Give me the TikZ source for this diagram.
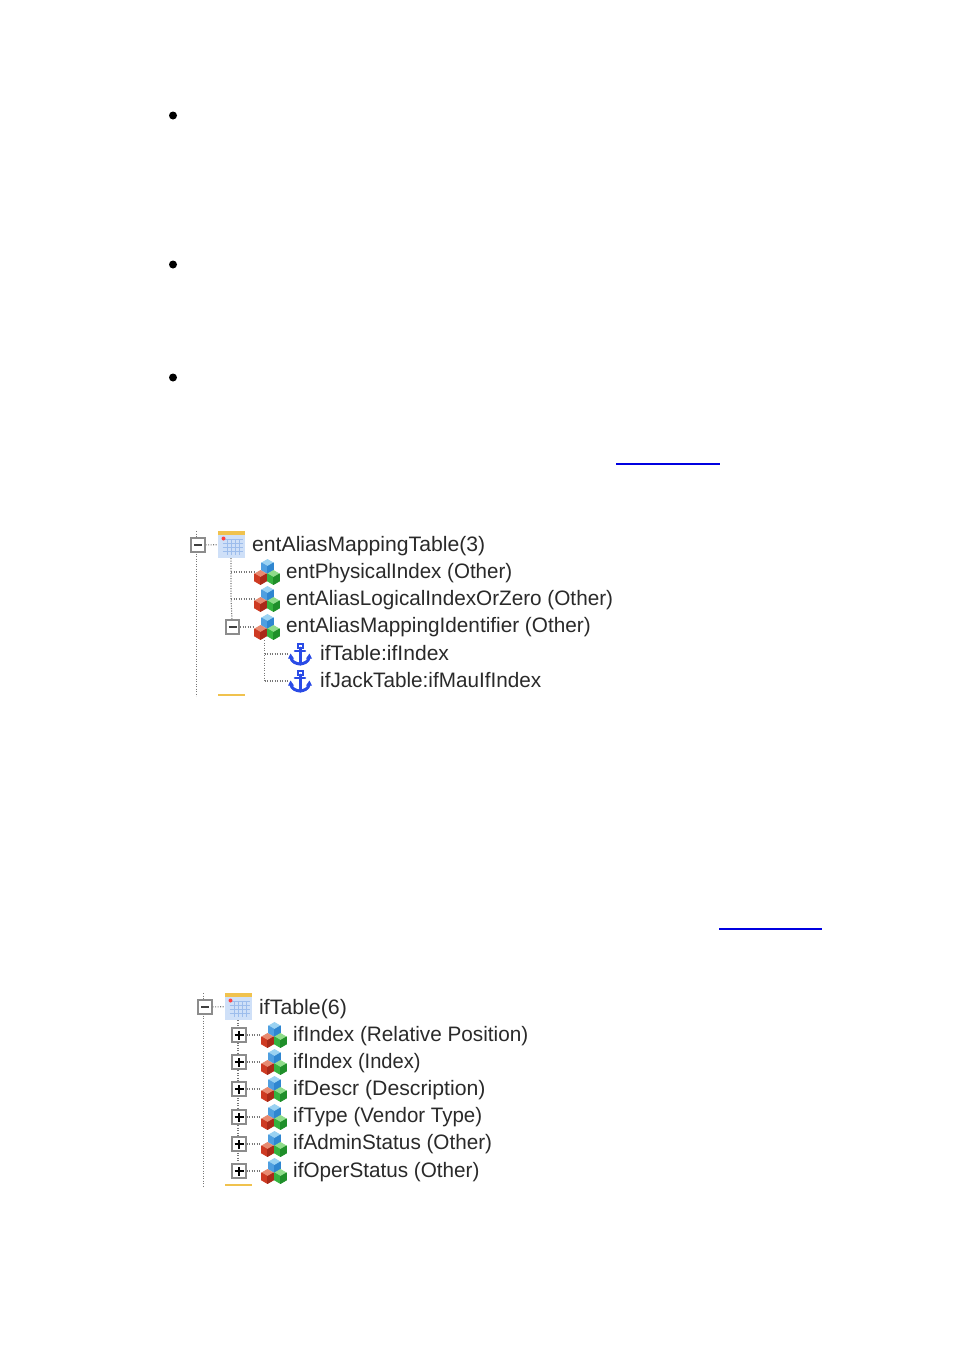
\documentclass[tikz,border=0pt]{standalone}
\usepackage{fontspec}
\setmainfont{Liberation Sans}
\definecolor{txt}{HTML}{2A2A2A}
\definecolor{boxc}{HTML}{8C8C8C}
\definecolor{dotc}{HTML}{777777}
\definecolor{gold}{HTML}{F0C24E}
\definecolor{tblue}{HTML}{CFE0F8}
\definecolor{tgrid}{HTML}{9DBDEC}
\definecolor{anch}{HTML}{2A4BE6}
\definecolor{linkc}{HTML}{0000E0}
\definecolor{blueA}{HTML}{9AD2F2}\definecolor{blueB}{HTML}{4F9FE0}\definecolor{blueC}{HTML}{2F86D0}
\definecolor{redA}{HTML}{E88A70}\definecolor{redB}{HTML}{CE3A22}\definecolor{redC}{HTML}{A92A18}
\definecolor{greenA}{HTML}{8FDC8A}\definecolor{greenB}{HTML}{35B23E}\definecolor{greenC}{HTML}{1F8F2A}
\tikzset{
  x=1pt,y=-1pt,
  lbl/.style={anchor=base west,inner sep=0pt,text=txt,font=\fontsize{20.9}{24}\selectfont},
  togglebox/.style={draw=boxc,line width=1.6pt,fill=white,minimum size=13.5pt,inner sep=0pt},
  iconcell/.style={minimum width=#1,minimum height=#1,inner sep=0pt},
  tree/.style={dotc,line width=1.1pt,dash pattern=on 1.1pt off 1.4pt},
  bulletdot/.style={circle,fill=black,minimum size=8pt,inner sep=0pt},
  linkbar/.style={linkc,line width=1.4pt},
  baseline rule/.style={gold,line width=1.5pt}
}
\newcommand{\isocube}[5]{%
  \begin{scope}[shift={(#1,#2)},line join=round,line width=.8pt]
    \filldraw[draw=#3,fill=#3] (0,-7) -- (6,-3.5) -- (0,0) -- (-6,-3.5) -- cycle;
    \filldraw[draw=#4,fill=#4] (-6,-3.5) -- (0,0) -- (0,7) -- (-6,3.5) -- cycle;
    \filldraw[draw=#5,fill=#5] (6,-3.5) -- (0,0) -- (0,7) -- (6,3.5) -- cycle;
  \end{scope}}
\newcommand{\cubeicon}[2]{%
  \node[iconcell=26pt] (#1) at (#2) {};
  \begin{scope}[shift={(#1.center)}]
    \isocube{0.5}{-5.5}{blueA}{blueB}{blueC}
    \isocube{-6.5}{5.5}{redA}{redB}{redC}
    \isocube{6.5}{5.5}{greenA}{greenB}{greenC}
  \end{scope}}
\newcommand{\anchoricon}[2]{%
  \node[iconcell=24pt] (#1) at (#2) {};
  \begin{scope}[shift={(#1.center)},anch,line cap=round]
    \draw[line width=2pt] (-2.5,-10.5) rectangle (2.5,-6.5);
    \draw[line width=3pt] (0,-6) -- (0,10);
    \draw[line width=2.6pt] (-5,-3) -- (5,-3);
    \draw[line width=3pt] (-9.5,3) .. controls (-8,8.5) and (-4,9.5) .. (0,10)
                            .. controls (4,9.5) and (8,8.5) .. (9.5,3);
    \fill (-12,4.5) -- (-6,4.5) -- (-9.5,-0.5) -- cycle;
    \fill (12,4.5) -- (6,4.5) -- (9.5,-0.5) -- cycle;
  \end{scope}}
\newcommand{\tableicon}[2]{%
  \node[iconcell=27pt] (#1) at (#2) {};
  \begin{scope}[shift={(#1.center)}]
    \fill[tblue] (-13.5,-13.5) rectangle (13.5,13.5);
    \foreach \gx in {-4,0,4,8} \draw[tgrid,line width=.9pt] (\gx,-5) -- (\gx,10);
    \foreach \gy in {-5,-1,3,7} \draw[tgrid,line width=.9pt] (-9,\gy) -- (11,\gy);
    \fill[gold] (-13.5,-13.5) rectangle (13.5,-9.5);
    \fill[red!75!white] (-8,-6) circle (2pt);
  \end{scope}}
\newcommand{\minusbox}[2]{%
  \node[togglebox] (#1) at (#2) {};
  \draw[black!75,line width=1.4pt] ([xshift=-4pt]#1.center) -- ([xshift=4pt]#1.center);}
\newcommand{\plusbox}[2]{%
  \node[togglebox] (#1) at (#2) {};
  \draw[black,line width=1.2pt] ([xshift=-4.5pt]#1.center) -- ([xshift=4.5pt]#1.center)
     ([yshift=-4.5pt]#1.center) -- ([yshift=4.5pt]#1.center);}
\newcommand{\fit}[2]{\scalebox{#1}[1]{#2}}
\begin{document}
\begin{tikzpicture}
\useasboundingbox (0,0) rectangle (954,1352);
\fill[white] (0,0) rectangle (954,1352);
% bullets
\node[bulletdot] (b1) at (173,115.5) {};
\node[bulletdot] (b2) at (173,264.5) {};
\node[bulletdot] (b3) at (173,377.5) {};
% link rules
\coordinate (la) at (616,464); \coordinate (lb) at (720,464);
\coordinate (lc) at (719,929); \coordinate (ld) at (822,929);
\draw[linkbar] (la) -- (lb);
\draw[linkbar] (lc) -- (ld);

% --- first tree
\coordinate (t1top) at (196.5,531);
\coordinate (t1bot) at (196.5,696);
\coordinate (s1) at (231,572);
\coordinate (s2) at (231,599);
\coordinate (u1) at (264.5,654);
\coordinate (u2) at (264.5,681);
\coordinate (c1top) at (231,558);
\coordinate (c2top) at (264.5,640);
\draw[tree] (t1top) -- (t1bot);
\draw[tree] (c1top) -- (s1) -- (s2) -- (232,620);
\draw[tree] (c2top) -- (u2);
\minusbox{m1}{198,545}
\minusbox{m2}{232.5,627}
\tableicon{t1}{231.5,544.5}
\cubeicon{a1}{267,572}
\cubeicon{a2}{267,599}
\cubeicon{a3}{267,627}
\anchoricon{k1}{300,654}
\anchoricon{k2}{300,681}
\draw[tree] (m1) -- (t1);
\draw[tree] (s1) -- (a1);
\draw[tree] (s2) -- (a2);
\draw[tree] (m2) -- (a3);
\draw[tree] (u1) -- (k1);
\draw[tree] (u2) -- (k2);
\draw[baseline rule] (218,695) -- (245,695);
\node[lbl] (l1) at (252,551) {\fit{1.013}{entAliasMappingTable(3)}};
\node[lbl] (l2) at (286,578) {\fit{0.983}{entPhysicalIndex (Other)}};
\node[lbl] (l3) at (286,605) {\fit{0.991}{entAliasLogicalIndexOrZero (Other)}};
\node[lbl] (l4) at (286,632.5) {\fit{0.993}{entAliasMappingIdentifier (Other)}};
\node[lbl] (l5) at (320,660) {\fit{1.008}{ifTable:ifIndex}};
\node[lbl] (l6) at (320,687) {\fit{0.991}{ifJackTable:ifMauIfIndex}};

% --- second tree
\coordinate (t2top) at (203.5,993);
\coordinate (t2bot) at (203.5,1186);
\coordinate (c3top) at (238,1020);
\coordinate (c3bot) at (238,1165);
\draw[tree] (t2top) -- (t2bot);
\draw[tree] (c3top) -- (c3bot);
\minusbox{m3}{205,1007}
\tableicon{t2}{238.5,1006.5}
\foreach \nm/\yy in {1/1035,2/1062,3/1089,4/1117,5/1144,6/1171}{
  \plusbox{p\nm}{239,\yy}
  \cubeicon{d\nm}{274,\yy}
  \draw[tree] (p\nm) -- (d\nm);
}
\draw[tree] (m3) -- (t2);
\draw[baseline rule] (225,1185) -- (252,1185);
\node[lbl] (r0) at (259,1014) {\fit{1.02}{ifTable(6)}};
\node[lbl] (r1) at (293,1041) {\fit{0.992}{ifIndex (Relative Position)}};
\node[lbl] (r2) at (293,1068) {\fit{0.962}{ifIndex (Index)}};
\node[lbl] (r3) at (293,1095) {\fit{1.016}{ifDescr (Description)}};
\node[lbl] (r4) at (293,1122.5) {\fit{0.98}{ifType (Vendor Type)}};
\node[lbl] (r5) at (293,1149.5) {\fit{0.99}{ifAdminStatus (Other)}};
\node[lbl] (r6) at (293,1177) {\fit{0.99}{ifOperStatus (Other)}};
\end{tikzpicture}
\end{document}
